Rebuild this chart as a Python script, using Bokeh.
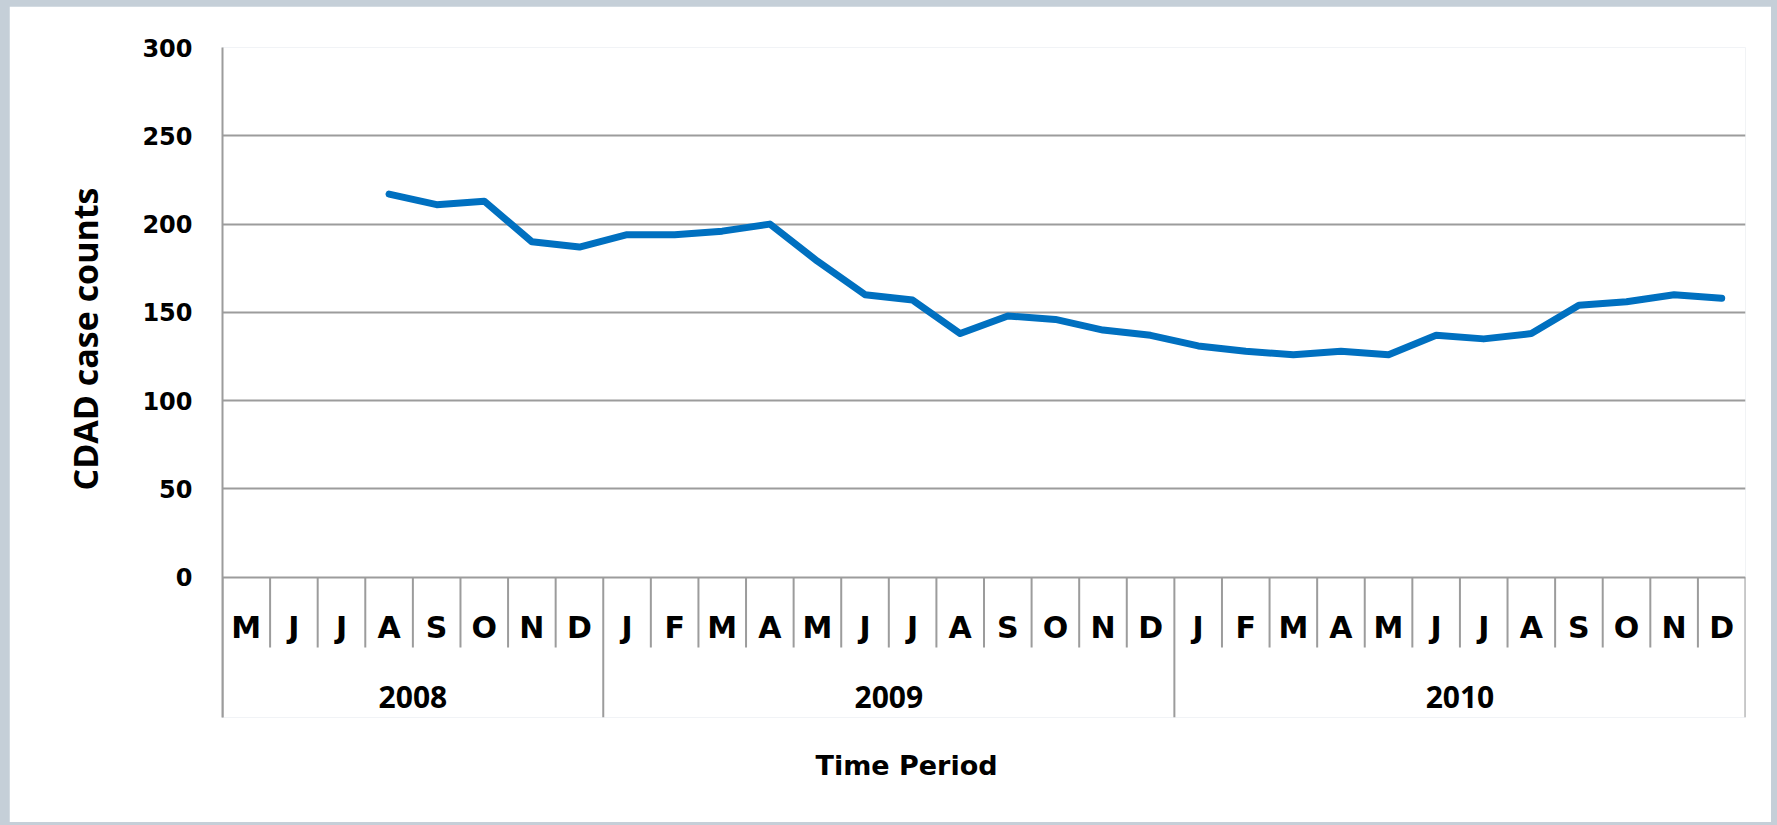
import numpy as np
from bokeh.plotting import figure
from bokeh.models import Range1d, FixedTicker, Title
from bokeh.core.properties import value
from bokeh.embed import file_html
from bokeh.resources import INLINE

# ---- data ----
months = ["M", "J", "J", "A", "S", "O", "N", "D",
          "J", "F", "M", "A", "M", "J", "J", "A", "S", "O", "N", "D",
          "J", "F", "M", "A", "M", "J", "J", "A", "S", "O", "N", "D"]
years = ["2008", "2009", "2010"]
months_per_year = [8, 12, 12]
cases = [None, None, None, 217, 211, 213, 190, 187,
         194, 194, 196, 200, 179, 160, 157, 138, 148, 146, 140, 137,
         131, 128, 126, 128, 126, 137, 135, 138, 154, 156, 160, 158]
y_ticks = [0, 50, 100, 150, 200, 250, 300]
y_title = "CDAD case counts"
x_title = "Time Period"

# ---- derived positions ----
n = len(months)
x_centers = [i + 0.5 for i in range(n)]
y_vals = [np.nan if v is None else v for v in cases]
year_bounds = list(np.cumsum([0] + months_per_year))
year_centers = [(year_bounds[i] + year_bounds[i + 1]) / 2 for i in range(len(years))]
month_seps = [i for i in range(1, n) if i not in year_bounds]

Y_MIN = -79.4
MONTH_LABEL_Y = -28.4
MONTH_SEP_Y = -39.7
YEAR_LABEL_Y = -68.0

GRID = "#9c9c9c"

p = figure(width=1762, height=816, output_backend="svg", toolbar_location=None,
           x_axis_type=None, x_range=Range1d(0, n), y_range=Range1d(Y_MIN, max(y_ticks)),
           min_border_left=213, min_border_right=26, min_border_top=41, min_border_bottom=105)
p.outline_line_color = None
p.background_fill_color = "white"
p.border_fill_color = "white"

# y axis
p.yaxis.ticker = FixedTicker(ticks=y_ticks)
p.yaxis.major_tick_line_color = None
p.yaxis.minor_tick_line_color = None
p.yaxis.axis_line_color = GRID
p.yaxis.axis_line_width = 2
p.yaxis.major_label_text_font = "DejaVu Sans"
p.yaxis.major_label_text_font_style = "bold"
p.yaxis.major_label_text_font_size = "24px"
p.yaxis.major_label_text_color = "black"
p.yaxis.major_label_standoff = 24
p.ygrid.ticker = FixedTicker(ticks=y_ticks)
p.ygrid.grid_line_color = GRID
p.ygrid.grid_line_width = 2
p.xgrid.grid_line_color = None

# category table below the value area
p.segment(x0=month_seps, y0=0, x1=month_seps, y1=MONTH_SEP_Y, line_color=GRID, line_width=2)
p.segment(x0=year_bounds, y0=0, x1=year_bounds, y1=Y_MIN, line_color=GRID, line_width=2)
p.text(x=x_centers, y=MONTH_LABEL_Y, text=months, text_align="center", text_baseline="middle",
       text_font=value("DejaVu Sans"), text_font_style="bold", text_font_size="30px", text_color="black")
p.text(x=year_centers, y=YEAR_LABEL_Y, text=years, text_align="center", text_baseline="middle",
       text_font=value("Open Sans"), text_font_style="bold", text_font_size="30px", text_color="black")

# data line
p.line(x=x_centers, y=y_vals, line_color="#0070C0", line_width=7, line_join="round", line_cap="round")

# titles
p.add_layout(Title(text=y_title, align="left", offset=227, standoff=64, vertical_align="bottom",
                   text_font="Open Sans", text_font_style="bold", text_font_size="34px",
                   text_color="black"), "left")
p.add_layout(Title(text=x_title, align="left", offset=593, standoff=64, vertical_align="top",
                   text_font="DejaVu Sans", text_font_style="bold", text_font_size="27px",
                   text_color="black"), "below")

html = file_html(p, INLINE)
css = ("<style>html, body { background: #c5cfd8 !important; } "
       "body { padding: 6px 0 0 9px !important; margin: 0 !important; "
       "box-sizing: border-box !important; }</style>")
html = html.replace("</head>", css + "</head>", 1)
open("out.html", "w").write(html)
